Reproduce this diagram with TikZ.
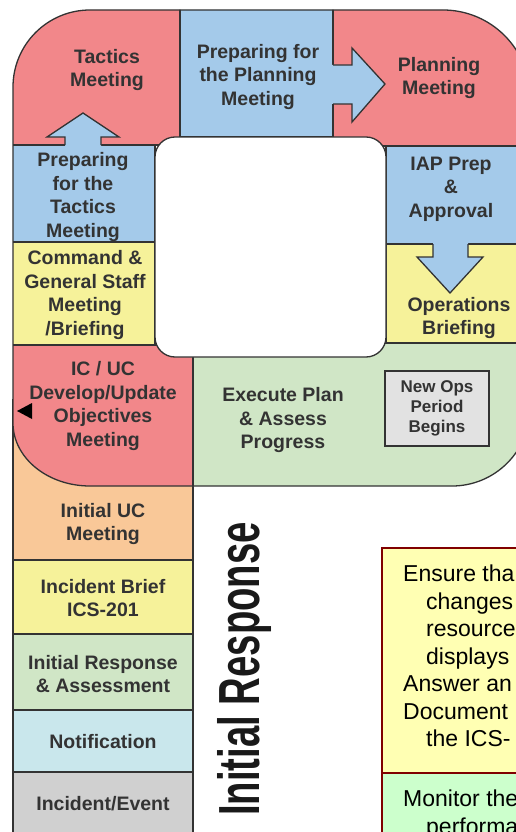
\documentclass[tikz,border=0pt]{standalone}
\usepackage{fontspec}
\setmainfont{Liberation Sans}
\usepackage{xcolor}
\definecolor{ink}{HTML}{333333}
\definecolor{redz}{HTML}{F2878A}
\definecolor{bluez}{HTML}{A4CAEA}
\definecolor{yellowz}{HTML}{F6F29A}
\definecolor{greenz}{HTML}{D0E6C6}
\definecolor{orangez}{HTML}{F9C898}
\definecolor{cyanz}{HTML}{C9E7EC}
\definecolor{grayz}{HTML}{D0D0D0}
\definecolor{opsgray}{HTML}{E2E2E2}
\definecolor{noteyellow}{HTML}{FFFFB3}
\definecolor{notegreen}{HTML}{CCFFCC}
\definecolor{noteedge}{HTML}{800000}
\tikzset{
    zone/.style={draw=ink, line width=1.3pt},
    lbl/.style={font=\bfseries\fontsize{19.5}{23.5}\selectfont, text=ink, align=center, inner sep=0pt},
    smalllbl/.style={font=\bfseries\fontsize{17}{20}\selectfont, text=ink, align=center, inner sep=0pt},
    notetext/.style={font=\fontsize{23}{27.5}\selectfont, text=black, align=left, inner sep=0pt, anchor=north west},
    loopshape/.style={insert path={(13,87) arc[start angle=180, end angle=270, radius=77] -- (443,10)
        arc[start angle=270, end angle=360, radius=87] -- (530,408)
        arc[start angle=0, end angle=90, radius=78] -- (90,486)
        arc[start angle=90, end angle=180, x radius=77, y radius=63] -- cycle}}
}

\begin{document}
\begin{tikzpicture}[x=1pt, y=-1pt]
    \useasboundingbox (0,0) rectangle (516,832);
    \clip (0,0) rectangle (516,832);

    \draw[zone, fill=orangez] (13,400) rectangle (193,560);
    \draw[zone, fill=yellowz] (13,560) rectangle (193,634);
    \draw[zone, fill=greenz] (13,634) rectangle (193,710);
    \draw[zone, fill=cyanz] (13,710) rectangle (193,772);
    \draw[zone, fill=grayz] (13,772) rectangle (193,850);

    \begin{scope}
        \clip[loopshape];
        \draw[zone, fill=redz] (0,0) rectangle (180,145);
        \draw[zone, fill=bluez] (180,0) rectangle (333,137);
        \draw[zone, fill=redz] (333,0) rectangle (600,146);
        \draw[zone, fill=bluez] (0,145) rectangle (155,242);
        \draw[zone, fill=yellowz] (0,242) rectangle (155,345);
        \draw[zone, fill=redz] (0,345) rectangle (193,500);
        \draw[zone, fill=bluez] (386,146) rectangle (600,244);
        \draw[zone, fill=yellowz] (386,244) rectangle (600,343);
        \draw[zone, fill=greenz] (193,343) rectangle (600,500);
    \end{scope}
    \draw[zone, loopshape];

    \fill[bluez] (65,148) -- (65,137) -- (47,137) -- (83,113) -- (119,137) -- (101,137) -- (101,148) -- cycle;
    \draw[zone, line join=miter] (65,145) -- (65,137) -- (47,137) -- (83,113) -- (119,137) -- (101,137) -- (101,145);
    \fill[bluez] (330,65) -- (352,65) -- (352,48) -- (385,84) -- (352,122) -- (352,104) -- (330,104) -- cycle;
    \draw[zone, line join=miter] (333,65) -- (352,65) -- (352,48) -- (385,84) -- (352,122) -- (352,104) -- (333,104);
    \fill[bluez] (433,241) -- (433,257) -- (417,257) -- (450,293) -- (483,257) -- (468,257) -- (468,241) -- cycle;
    \draw[zone, line join=miter] (433,244) -- (433,257) -- (417,257) -- (450,293) -- (483,257) -- (468,257) -- (468,244);

    \draw[zone, fill=white, rounded corners=20pt] (155,137) rectangle (386,357);

    \node[lbl] (tactics) at (107,70) {Tactics\\Meeting};
    \node[lbl] (prepplan) at (258,77) {Preparing for\\the Planning\\Meeting};
    \node[lbl] (planning) at (439,78) {Planning\\Meeting};
    \node[lbl] (preptact) at (83,197) {Preparing\\for the\\Tactics\\Meeting};
    \node[lbl] (cgs) at (85,295) {Command \&\\General Staff\\Meeting\\/Briefing};
    \node[lbl] (iap) at (451,189) {IAP Prep\\\&\\Approval};
    \node[lbl] (ops) at (459,318) {Operations\\Briefing};
    \node[lbl] (icuc) at (103,406) {IC / UC\\Develop/Update\\Objectives\\Meeting};
    \node[lbl] (execute) at (283,420) {Execute Plan\\\& Assess\\Progress};
    \node[smalllbl, zone, fill=opsgray, minimum width=104pt, minimum height=75pt] (newops) at (437,408.5) {New Ops\\Period\\Begins};
    \fill[black] (17,411) -- (32,403) -- (32,419) -- cycle;

    \node[lbl] (iuc) at (103,524) {Initial UC\\Meeting};
    \node[lbl] (brief) at (103,598) {Incident Brief\\ICS-201};
    \node[lbl] (initresp) at (103,674) {Initial Response\\\& Assessment};
    \node[lbl] (notif) at (103,742) {Notification};
    \node[lbl] (event) at (103,804) {Incident/Event};

    \node[rotate=90, inner sep=0pt, text=black!90, font=\bfseries\fontsize{58}{58}\selectfont] (phase) at (245,669) {\scalebox{0.66}[1]{Initial Response}};

    \draw[noteedge, line width=1.5pt, fill=noteyellow] (382,548) rectangle (540,773);
    \draw[noteedge, line width=1.5pt, fill=notegreen] (382,773) rectangle (540,850);
    \node[notetext] (ensure) at (403,565) {Ensure tha\\\hspace*{23pt}changes\\\hspace*{23pt}resource\\\hspace*{23pt}displays\\Answer an\\Document\\\hspace*{23pt}the ICS-};
    \node[notetext] (monitor) at (403,790) {Monitor the\\\hspace*{23pt}performa};
\end{tikzpicture}
\end{document}
